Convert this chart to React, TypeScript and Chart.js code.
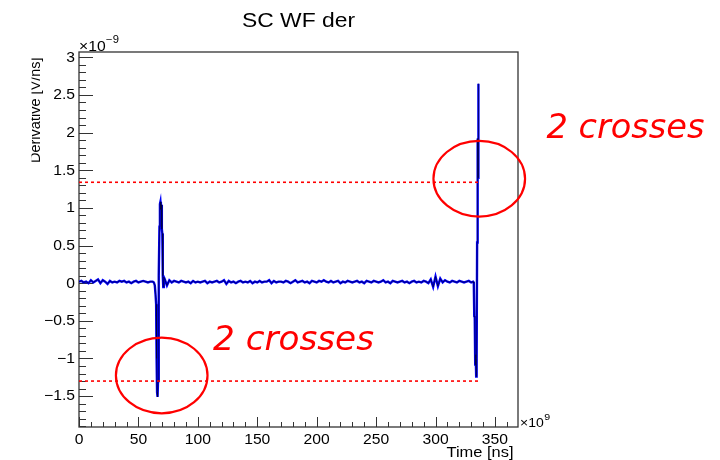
import React, { useEffect, useRef } from "react";
import { Chart, registerables } from "chart.js";

Chart.register(...registerables);

// ---------- DATA (derivative in units of 1e-9, time in ns as shown on axis) ----------
const timeA = [0, 2, 4, 6, 8, 10, 12, 14, 16, 18, 20, 22, 24, 26, 28, 30, 32, 34, 36, 38, 40, 42, 44, 46, 48, 50, 52, 54, 56, 58, 60, 62];
const derivA = [
  0.02, 0.03, 0.01, 0.02, 0.0, 0.04, 0.01, 0.03, 0.05, 0.0,
  0.04, 0.02, -0.01, 0.03, 0.01, 0.02, 0.01, 0.03, 0.02, 0.03,
  0.01, 0.02, 0.0, 0.02, 0.03, 0.01, 0.02, 0.03, 0.02, 0.01,
  0.02, 0.02,
];
const timeB = [63.0, 63.8, 64.4, 64.9, 65.3, 65.7, 66.1, 66.5, 66.9, 67.3, 67.7, 68.1, 68.5, 68.9, 69.3, 69.7, 70.1, 70.5, 70.9, 71.4];
const derivB = [0.01, -0.03, -0.15, -0.28, -1.0, -1.45, -1.51, -1.3, -0.6, 0.1, 0.75, 1.05, 1.08, 0.98, 1.04, 0.72, 0.66, 0.1, -0.05, 0.08];
const timeC = [
  72, 74, 76, 78, 80, 82, 84, 86, 88, 90,
  92, 94, 96, 98, 100, 102, 104, 106, 108, 110,
  112, 114, 116, 118, 120, 122, 124, 126, 128, 130,
  132, 134, 136, 138, 140, 142, 144, 146, 148, 150,
  152, 154, 156, 158, 160, 162, 164, 166, 168, 170,
  172, 174, 176, 178, 180, 182, 184, 186, 188, 190,
  192, 194, 196, 198, 200, 202, 204, 206, 208, 210,
  212, 214, 216, 218, 220, 222, 224, 226, 228, 230,
  232, 234, 236, 238, 240, 242, 244, 246, 248, 250,
  252, 254, 256, 258, 260, 262, 264, 266, 268, 270,
  272, 274, 276, 278, 280, 282, 284, 286, 288, 290,
  292, 294, 296, 298, 300, 302, 304, 306, 308, 310,
  312, 314, 316, 318, 320, 322, 324, 326, 328, 330,
];
const derivC = [
  0.06, -0.03, 0.04, 0.01, 0.03, 0.02, 0.01, 0.03, 0.02, 0.01,
  0.02, 0.0, 0.03, 0.01, 0.02, 0.01, 0.02, 0.03, 0.0, 0.02,
  0.01, 0.02, 0.03, 0.01, 0.02, 0.04, -0.01, 0.03, 0.01, 0.02,
  0.0, 0.02, 0.03, 0.01, 0.02, 0.01, 0.03, 0.0, 0.02, 0.01,
  0.03, 0.01, 0.02, 0.02, 0.04, 0.0, 0.03, 0.01, 0.02, 0.02,
  0.01, 0.03, 0.02, 0.0, 0.02, 0.04, 0.01, 0.02, 0.03, 0.01,
  0.02, 0.0, 0.03, 0.02, 0.01, 0.03, 0.02, 0.04, 0.02, 0.01,
  0.03, 0.01, 0.02, 0.03, 0.0, 0.02, 0.01, 0.03, 0.02, 0.01,
  0.02, 0.03, 0.01, 0.02, 0.0, 0.03, 0.02, 0.01, 0.03, 0.02,
  0.01, 0.02, 0.04, 0.01, 0.02, 0.0, 0.03, 0.02, 0.01, 0.02,
  0.03, 0.01, 0.02, 0.0, 0.02, 0.03, 0.01, 0.02, 0.01, 0.03,
  0.02, 0.0, 0.05, -0.05, 0.09, -0.04, 0.06, 0.01, 0.04, 0.02,
  0.01, 0.03, 0.02, 0.01, 0.03, 0.02, 0.01, 0.02, 0.03, 0.01,
];
const timeD = [331.6, 332.2, 332.6, 333.0, 333.4, 333.8, 334.2, 334.6, 335.0, 335.3, 335.6, 335.8, 336.0, 336.2];
const derivD = [0.02, 0.0, -0.44, -0.45, -1.08, -0.95, -1.24, -1.0, 0.54, 1.36, 1.92, 1.4, 1.88, 2.65];

const thresholdHigh = 1.34;
const thresholdLow = -1.3;
const thresholdTimes = [0, 337];

const xTicks = [0, 50, 100, 150, 200, 250, 300, 350];
const xTickLabels = ["0", "50", "100", "150", "200", "250", "300", "350"];
const yTicks = [-1.5, -1, -0.5, 0, 0.5, 1, 1.5, 2, 2.5, 3];
const yTickLabels = ["\u22121.5", "\u22121", "\u22120.5", "0", "0.5", "1", "1.5", "2", "2.5", "3"];

// annotation circles around the crossings (time, value)
const crossTimes = [69.6, 336.8];
const crossValues = [-1.226, 1.387];
const annotationText = "2 crosses";
const titleText = "SC WF der";
const xTitle = "Time [ns]";
const yTitle = "Derivative [V/ns]";

const X_MIN = 0;
const X_MAX = 369.4;
const Y_MIN = -1.91;
const Y_MAX = 3.07;

const SANS = '"Liberation Sans", Arial, Helvetica, sans-serif';
const STRETCH = 1.12;

function drawText(
  ctx: CanvasRenderingContext2D,
  text: string,
  x: number,
  y: number,
  font: string,
  align: CanvasTextAlign,
  sx: number,
  color = "#000",
  baseline: CanvasTextBaseline = "alphabetic"
) {
  ctx.save();
  ctx.font = font;
  ctx.fillStyle = color;
  ctx.textAlign = align;
  ctx.textBaseline = baseline;
  ctx.translate(x, y);
  ctx.scale(sx, 1);
  ctx.fillText(text, 0, 0);
  ctx.restore();
}

function drawFitted(ctx: CanvasRenderingContext2D, text: string, left: number, y: number, font: string, width: number, color = "#000") {
  ctx.save();
  ctx.font = font;
  const w = ctx.measureText(text).width;
  ctx.restore();
  drawText(ctx, text, left, y, font, "left", width / w, color);
}

const rootPlugin = {
  id: "rootStyle",
  beforeDatasetsDraw(chart: any) {
    const { ctx, chartArea: a, scales } = chart;
    const xs = scales.x;
    const ys = scales.y;
    ctx.save();
    ctx.strokeStyle = "#333";
    ctx.lineWidth = 1;
    ctx.beginPath();
    for (let i = 0; i * 10 <= X_MAX; i++) {
      const px = Math.round(xs.getPixelForValue(i * 10)) + 0.5;
      const len = i % 5 === 0 ? 10 : 5;
      ctx.moveTo(px, a.bottom);
      ctx.lineTo(px, a.bottom - len);
    }
    for (let i = -19; i <= 30; i++) {
      const py = Math.round(ys.getPixelForValue(i / 10)) + 0.5;
      const len = i % 5 === 0 ? 14 : 7;
      ctx.moveTo(a.left, py);
      ctx.lineTo(a.left + len, py);
    }
    ctx.stroke();
    ctx.lineWidth = 1.3;
    ctx.strokeRect(a.left, a.top, a.right - a.left, a.bottom - a.top);
    ctx.restore();

    // tick labels
    xTicks.forEach((v, i) => {
      drawText(ctx, xTickLabels[i], xs.getPixelForValue(v), a.bottom + 16.5, `14px ${SANS}`, "center", STRETCH);
    });
    yTicks.forEach((v, i) => {
      drawText(ctx, yTickLabels[i], a.left - 4, ys.getPixelForValue(v) + 0.5, `14px ${SANS}`, "right", STRETCH, "#000", "middle");
    });

    // exponent labels
    ctx.save();
    ctx.font = `14px ${SANS}`;
    const w1 = ctx.measureText("\u00d710").width * STRETCH;
    ctx.font = `12.5px ${SANS}`;
    const w2 = ctx.measureText("\u00d710").width * STRETCH;
    ctx.restore();
    drawText(ctx, "\u00d710", a.left, a.top - 1.5, `14px ${SANS}`, "left", STRETCH);
    drawText(ctx, "\u22129", a.left + w1 + 0.5, a.top - 9.5, `10px ${SANS}`, "left", STRETCH);
    drawText(ctx, "\u00d710", a.right + 2, a.bottom, `12.5px ${SANS}`, "left", STRETCH);
    drawText(ctx, "9", a.right + 2 + w2 + 0.5, a.bottom - 7.5, `9.5px ${SANS}`, "left", STRETCH);

    // axis titles
    drawFitted(ctx, xTitle, a.right - 71.5, a.bottom + 30, `14px ${SANS}`, 67);
    ctx.save();
    ctx.beginPath();
    ctx.rect(31.5, 0, 700, 460);
    ctx.clip();
    ctx.translate(39.5, 163);
    ctx.rotate(-Math.PI / 2);
    ctx.font = `14.5px ${SANS}`;
    ctx.fillStyle = "#000";
    ctx.textAlign = "left";
    ctx.fillText(yTitle, 0, 0);
    ctx.restore();

    // title
    drawFitted(ctx, titleText, 242, 27.3, `20px ${SANS}`, 113);
  },
  afterDatasetsDraw(chart: any) {
    const { ctx, scales } = chart;
    const xs = scales.x;
    const ys = scales.y;
    ctx.save();
    ctx.strokeStyle = "#ff0000";
    ctx.lineWidth = 2.2;
    crossTimes.forEach((t, i) => {
      ctx.beginPath();
      ctx.ellipse(xs.getPixelForValue(t), ys.getPixelForValue(crossValues[i]), 45.8, 37.8, 0, 0, Math.PI * 2);
      ctx.stroke();
    });
    ctx.restore();
    const font = `italic 33px "DejaVu Sans", Verdana, sans-serif`;
    drawFitted(ctx, annotationText, 546.5, 137.7, font, 158, "#ff0000");
    drawFitted(ctx, annotationText, 213, 349.5, font, 161, "#ff0000");
  },
};

export default function App() {
  const canvasRef = useRef<HTMLCanvasElement | null>(null);

  useEffect(() => {
    if (!canvasRef.current) return;
    const times = [...timeA, ...timeB, ...timeC, ...timeD];
    const values = [...derivA, ...derivB, ...derivC, ...derivD];
    const wave = times.map((t, i) => ({ x: t, y: values[i] }));
    const hi = thresholdTimes.map((t) => ({ x: t, y: thresholdHigh }));
    const lo = thresholdTimes.map((t) => ({ x: t, y: thresholdLow }));

    const chart = new Chart(canvasRef.current, {
      type: "line",
      data: {
        datasets: [
          { data: hi, borderColor: "#ff0000", borderWidth: 1.6, borderDash: [3, 3], pointRadius: 0, order: 0 },
          { data: lo, borderColor: "#ff0000", borderWidth: 1.6, borderDash: [3, 3], pointRadius: 0, order: 0 },
          { data: wave, borderColor: "#000033", borderWidth: 0.7, pointRadius: 0, tension: 0, order: 1 },
          { data: wave, borderColor: "#0000ff", borderWidth: 2.4, pointRadius: 0, tension: 0, order: 2 },
        ],
      },
      options: {
        animation: false,
        responsive: false,
        devicePixelRatio: 1,
        layout: { padding: { left: 79, top: 52, right: 202, bottom: 33 } },
        scales: {
          x: { type: "linear", min: X_MIN, max: X_MAX, display: false },
          y: { type: "linear", min: Y_MIN, max: Y_MAX, display: false },
        },
        plugins: { legend: { display: false }, tooltip: { enabled: false } },
        events: [],
      },
      plugins: [rootPlugin],
    });
    return () => chart.destroy();
  }, []);

  return (
    <div style={{ position: "fixed", left: 0, top: 0, width: 720, height: 460, background: "#fff" }}>
      <canvas ref={canvasRef} width={720} height={460} style={{ width: 720, height: 460, display: "block" }} />
    </div>
  );
}
